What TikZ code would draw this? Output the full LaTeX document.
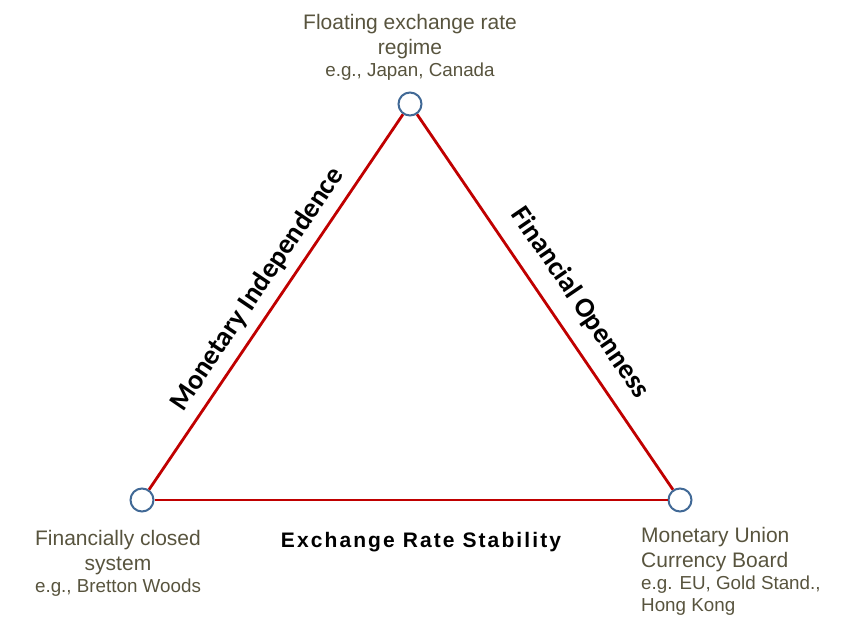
\documentclass[tikz,border=0pt]{standalone}
\usepackage{fontspec}
\setmainfont{Liberation Sans}
\newfontfamily\calib{Carlito}
\newfontfamily\ersfont[LetterSpace=10]{Liberation Sans}
\definecolor{edgered}{RGB}{192,0,0}
\definecolor{vblue}{RGB}{65,105,150}
\definecolor{labtxt}{RGB}{88,84,62}
\newcommand{\smalltxt}{\fontsize{18.8}{22.5}\selectfont}
\begin{document}
\begin{tikzpicture}[x=1pt,y=1pt,
  vertex/.style={circle,draw=vblue,line width=2pt,fill=white,minimum size=23pt,inner sep=0pt},
  side/.style={draw=edgered,line width=2.8pt},
  sidelab/.style={font=\calib\bfseries\fontsize{28}{32}\selectfont,text=black,sloped,midway,above=9pt,inner sep=0pt},
  regime/.style={text=labtxt,font=\fontsize{21}{25}\selectfont,align=center,inner sep=0pt}]
\useasboundingbox (0,0) rectangle (850,634);
\node[vertex] (T) at (410,530) {};
\node[vertex] (L) at (142,134) {};
\node[vertex] (R) at (680,134) {};
\draw[side] (L) -- (T) node[sidelab] (mi) {Monetary Independence};
\draw[side] (T) -- (R) node[sidelab,pos=0.545,above=6pt] (fo) {Financial Openness};
\draw[side] (L) -- (R);
\node[font=\ersfont\bfseries\fontsize{21}{24}\selectfont,anchor=base,inner sep=0pt] (ers) at (421,87) {Exchange Rate Stability};
\node[regime,anchor=north] (tt) at (410,620) {Floating exchange rate\\regime\\[-3pt]{\smalltxt e.g., Japan, Canada}};
\node[regime,anchor=north] (lt) at (118,104) {Financially closed\\system\\[-3pt]{\smalltxt e.g., Bretton Woods}};
\node[regime,anchor=north west,align=left] (rt) at (641,107) {Monetary Union\\Currency Board\\[-3pt]{\smalltxt e.g. EU, Gold Stand.,}\\[-3pt]{\smalltxt Hong Kong}};
\end{tikzpicture}
\end{document}
